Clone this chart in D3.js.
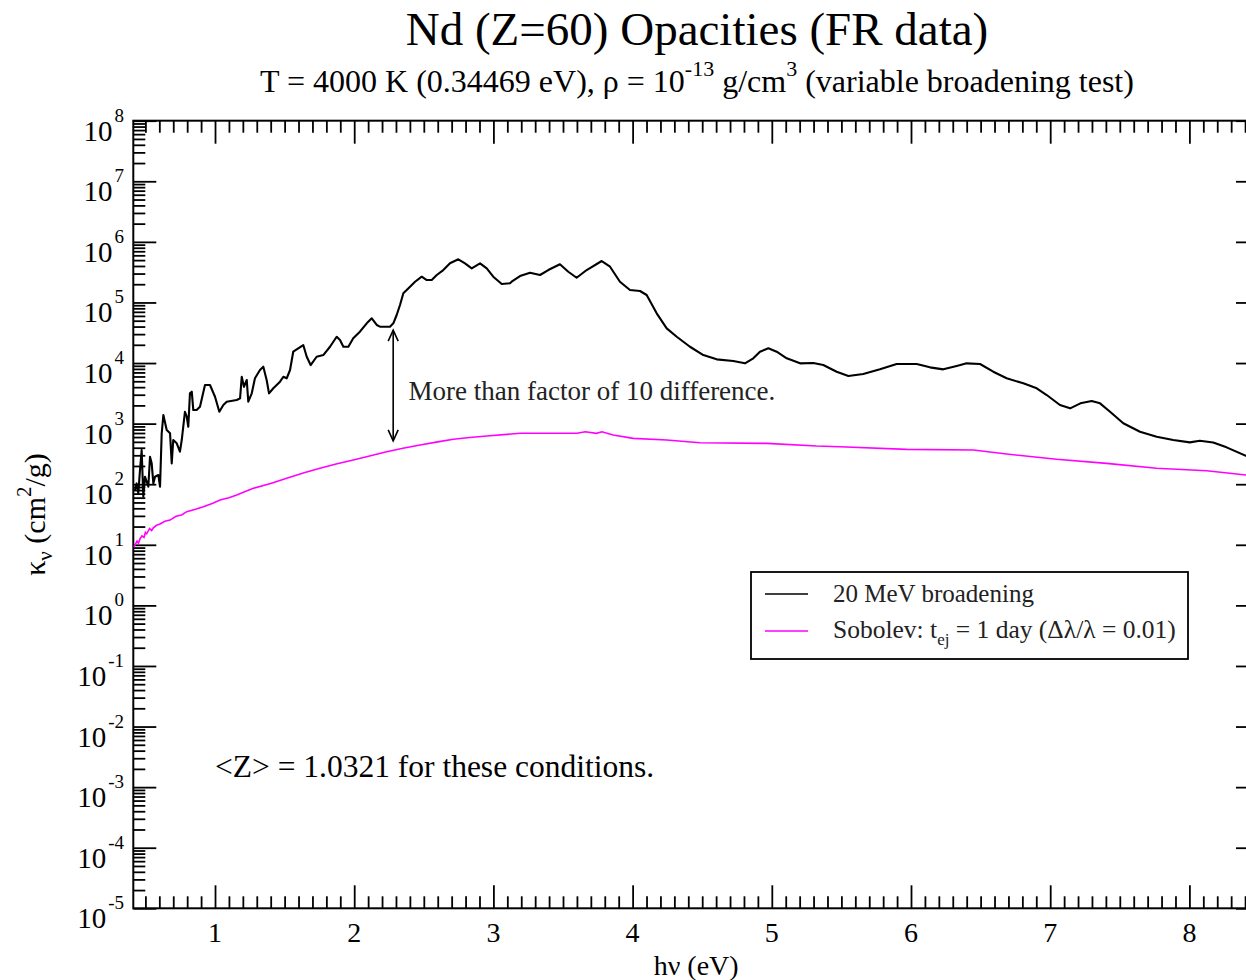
<!DOCTYPE html>
<html lang="en">
<head>
<meta charset="UTF-8">
<title>Nd opacities</title>
<script src="https://d3js.org/d3.v7.min.js"></script>
<style>
  body { margin: 0; background: #fff; }
  svg { display: block; font-family: "Liberation Serif", "Times New Roman", serif; }
</style>
</head>
<body>
<script>
// 20 MeV broadening (black)
const blackE = [0.425,0.437,0.449,0.461,0.473,0.485,0.497,0.521,0.533,0.545,0.557,0.569,0.593,0.605,0.617,0.629,0.653,0.677,0.689,0.700,
  0.725,0.748,0.761,0.784,0.797,0.808,0.820,0.833,0.844,0.868,0.892,0.928,0.964,1.000,1.031,1.060,1.084,1.156,1.180,1.192,
  1.208,1.228,1.239,1.264,1.287,1.323,1.347,1.371,1.388,1.419,1.467,1.491,1.515,1.539,1.562,1.598,1.634,1.659,1.687,1.730,
  1.778,1.826,1.874,1.898,1.922,1.958,1.993,2.041,2.090,2.126,2.162,2.185,2.257,2.281,2.305,2.329,2.353,2.401,2.437,2.485,
  2.521,2.557,2.593,2.640,2.688,2.748,2.796,2.844,2.904,2.952,2.999,3.060,3.119,3.131,3.191,3.263,3.335,3.394,3.478,3.538,
  3.598,3.670,3.778,3.838,3.909,3.981,4.053,4.101,4.173,4.245,4.317,4.412,4.508,4.604,4.723,4.807,4.867,4.915,4.975,5.035,
  5.107,5.203,5.298,5.370,5.466,5.550,5.657,5.777,5.897,6.041,6.136,6.232,6.328,6.400,6.496,6.591,6.687,6.807,6.903,6.975,
  7.070,7.143,7.217,7.298,7.358,7.430,7.525,7.645,7.765,7.884,8.003,8.075,8.171,8.267,8.406,8.500];
const blackK = [80,103,71,171,366,62,133,91,284,221,103,133,142,91,692,1387,783,692,221,536,
  473,344,536,1570,1300,889,3162,3365,1675,1675,1901,4335,4335,2780,1570,2028,2301,2449,2612,5943,
  4064,5248,2301,3162,5598,7674,8690,5248,3162,3828,4920,5943,5598,7674,15380,17500,19820,12700,9270,12700,
  13550,18580,27160,23990,18580,18580,25590,32890,45290,54700,42460,39810,39810,45290,62090,90780,141600,182000,219800,266100,
  234400,234400,283800,342800,442600,515200,442600,365600,442600,365600,266100,201400,207000,219800,272900,309700,283800,342800,426600,321400,
  255900,342800,483100,389000,219800,160300,154500,132700,66220,37410,27160,18580,13550,11510,10790,9886,11970,15380,17500,15380,
  11970,9886,10000,9270,7194,6109,6592,7870,9638,9638,8492,7870,8933,9886,9638,7194,5598,4624,3828,2965,
  2028,1786,2163,2360,2163,1570,1012,735,608,536,491,522,487,406,295,250];

// Sobolev (magenta)
const sobE = [0.415,0.425,0.440,0.450,0.461,0.475,0.490,0.500,0.509,0.530,0.545,0.557,0.580,0.605,0.640,0.677,0.720,0.760,0.797,0.860,
  0.916,0.980,1.036,1.100,1.156,1.275,1.400,1.515,1.640,1.754,1.870,1.993,2.110,2.233,2.350,2.473,2.600,2.712,2.830,2.952,
  3.191,3.600,3.660,3.740,3.780,3.860,4.005,4.245,4.484,4.963,5.322,5.490,5.969,6.448,6.687,7.046,7.405,7.765,8.124,8.406,8.500];
const sobK = [9.2,9.9,11.5,10.6,12.5,14.0,13.2,16.0,15.2,18.5,17.2,19.0,21.0,22.0,24.5,25.6,29.5,31.0,35.2,38.5,
  42.5,48.0,54.8,60.0,66.2,85.5,103,125,155,183,215,251,292,344,392,444,500,551,590,624,
  692,692,735,692,735,649,571,536,484,472,427,416,376,366,315,258,221,183,167,142,138];

const xMajorTicks = [1, 2, 3, 4, 5, 6, 7, 8];
const xMinorTicks = d3.range(5, 86).map(d => d / 10).filter(d => Math.abs(d - Math.round(d)) > 1e-6);
const yExponents = [8, 7, 6, 5, 4, 3, 2, 1, 0, -1, -2, -3, -4, -5];

const legendLabels = ["20 MeV broadening", "Sobolev"];
const legendColors = ["#000000", "#ff00ff"];

const W = 1246, H = 980;
const pLeft = 133.3, pTop = 120.7, pRight = 1259, pBottom = 908.3;

const x = d3.scaleLinear().domain([0.413, 8.5]).range([pLeft, pRight]);
const y = d3.scaleLog().domain([1e-5, 1e8]).range([pBottom, pTop]);

const svg = d3.select("body").append("svg")
  .attr("width", W).attr("height", H)
  .attr("viewBox", `0 0 ${W} ${H}`);

svg.append("defs").append("clipPath").attr("id", "plotclip")
  .append("rect").attr("x", pLeft).attr("y", pTop)
  .attr("width", pRight - pLeft).attr("height", pBottom - pTop);

// title
svg.append("text").attr("x", 697).attr("y", 45)
  .attr("text-anchor", "middle").style("font-size", "47px")
  .text("Nd (Z=60) Opacities (FR data)");

const sub = svg.append("text").attr("x", 697).attr("y", 92)
  .attr("text-anchor", "middle").style("font-size", "32px");
sub.append("tspan").text("T = 4000 K (0.34469 eV), \u03c1 = 10");
sub.append("tspan").attr("dy", -16).style("font-size", "22px").text("-13");
sub.append("tspan").attr("dy", 16).text(" g/cm");
sub.append("tspan").attr("dy", -16).style("font-size", "22px").text("3");
sub.append("tspan").attr("dy", 16).text(" (variable broadening test)");

// ticks
const yMinor = [];
for (let k = -5; k < 8; k++) for (let m = 2; m <= 9; m++) yMinor.push(m * Math.pow(10, k));
const yMajor = yExponents.map(e => Math.pow(10, e));

function styleTicks(g) {
  g.select(".domain").remove();
  g.selectAll("line").attr("stroke", "#000").attr("stroke-width", 1.8);
}

svg.append("g").attr("transform", `translate(0,${pBottom})`)
  .call(d3.axisBottom(x).tickValues(xMajorTicks).tickSize(-23).tickSizeOuter(0).tickFormat(""))
  .call(styleTicks);
svg.append("g").attr("transform", `translate(0,${pBottom})`)
  .call(d3.axisBottom(x).tickValues(xMinorTicks).tickSize(-12).tickSizeOuter(0).tickFormat(""))
  .call(styleTicks);
svg.append("g").attr("transform", `translate(0,${pTop})`)
  .call(d3.axisTop(x).tickValues(xMajorTicks).tickSize(-23).tickSizeOuter(0).tickFormat(""))
  .call(styleTicks);
svg.append("g").attr("transform", `translate(0,${pTop})`)
  .call(d3.axisTop(x).tickValues(xMinorTicks).tickSize(-12).tickSizeOuter(0).tickFormat(""))
  .call(styleTicks);
svg.append("g").attr("transform", `translate(${pLeft},0)`)
  .call(d3.axisLeft(y).tickValues(yMajor).tickSize(-23).tickSizeOuter(0).tickFormat(""))
  .call(styleTicks);
svg.append("g").attr("transform", `translate(${pLeft},0)`)
  .call(d3.axisLeft(y).tickValues(yMinor).tickSize(-12).tickSizeOuter(0).tickFormat(""))
  .call(styleTicks);
svg.append("g").attr("transform", `translate(${pRight},0)`)
  .call(d3.axisRight(y).tickValues(yMajor).tickSize(-23).tickSizeOuter(0).tickFormat(""))
  .call(styleTicks);
svg.append("g").attr("transform", `translate(${pRight},0)`)
  .call(d3.axisRight(y).tickValues(yMinor).tickSize(-12).tickSizeOuter(0).tickFormat(""))
  .call(styleTicks);

// frame
svg.append("rect").attr("x", pLeft).attr("y", pTop)
  .attr("width", pRight - pLeft).attr("height", pBottom - pTop)
  .attr("fill", "none").attr("stroke", "#000").attr("stroke-width", 2);

// tick labels
svg.append("g").selectAll("text").data(xMajorTicks).join("text")
  .attr("x", d => x(d)).attr("y", 942)
  .attr("text-anchor", "middle").style("font-size", "28px")
  .text(d => d);

const yl = svg.append("g").selectAll("text").data(yExponents).join("text")
  .attr("x", 124).attr("y", d => y(Math.pow(10, d)) + 20)
  .attr("text-anchor", "end").style("font-size", "29px");
yl.append("tspan").text("10");
yl.append("tspan").attr("dy", -19).attr("dx", 2).style("font-size", "19px").text(d => d);

// axis titles
svg.append("text").attr("x", (pLeft + pRight) / 2).attr("y", 975)
  .attr("text-anchor", "middle").style("font-size", "28px")
  .text("h\u03bd (eV)");

const yt = svg.append("text")
  .attr("transform", `translate(45,${(pTop + pBottom) / 2}) rotate(-90)`)
  .attr("text-anchor", "middle").style("font-size", "30px");
yt.append("tspan").text("\u03ba");
yt.append("tspan").attr("dy", 7).style("font-size", "21px").text("\u03bd");
yt.append("tspan").attr("dy", -7).text(" (cm");
yt.append("tspan").attr("dy", -14).style("font-size", "21px").text("2");
yt.append("tspan").attr("dy", 14).text("/g)");

// curves
const line = d3.line().x(d => x(d[0])).y(d => y(d[1]));
const plot = svg.append("g").attr("clip-path", "url(#plotclip)");

plot.append("path")
  .datum(sobE.map((e, i) => [e, sobK[i]]))
  .attr("d", line).attr("fill", "none")
  .attr("stroke", legendColors[1]).attr("stroke-width", 1.6);

plot.append("path")
  .datum(blackE.map((e, i) => [e, blackK[i]]))
  .attr("d", line).attr("fill", "none")
  .attr("stroke", legendColors[0]).attr("stroke-width", 2.1)
  .attr("stroke-linejoin", "round");

// double arrow
const arrowX = 2.28, arrowTop = 3.5e4, arrowBot = 5.2e2;
const ax = x(arrowX), ay1 = y(arrowTop), ay2 = y(arrowBot);
const ann = svg.append("g").attr("stroke", "#000").attr("stroke-width", 1.6).attr("fill", "none");
ann.append("line").attr("x1", ax).attr("x2", ax).attr("y1", ay1).attr("y2", ay2);
ann.append("path").attr("d", `M${ax - 5},${ay1 + 11}L${ax},${ay1}L${ax + 5},${ay1 + 11}`);
ann.append("path").attr("d", `M${ax - 5},${ay2 - 11}L${ax},${ay2}L${ax + 5},${ay2 - 11}`);

svg.append("text").attr("x", x(2.39)).attr("y", y(2.5e3))
  .style("font-size", "27px").attr("fill", "#222")
  .text("More than factor of 10 difference.");

svg.append("text").attr("x", x(1.0)).attr("y", y(1.46e-3))
  .style("font-size", "31.5px")
  .text("<Z> = 1.0321 for these conditions.");

// legend
const lg = svg.append("g");
lg.append("rect").attr("x", 751).attr("y", 572).attr("width", 437).attr("height", 87)
  .attr("fill", "#fff").attr("stroke", "#000").attr("stroke-width", 1.8);
[594, 631].forEach((ly, i) => {
  lg.append("line").attr("x1", 765).attr("x2", 808).attr("y1", ly).attr("y2", ly)
    .attr("stroke", legendColors[i]).attr("stroke-width", 1.6);
});
lg.append("text").attr("x", 833).attr("y", 602).style("font-size", "25px").attr("fill", "#222")
  .text(legendLabels[0]);
const l2 = lg.append("text").attr("x", 833).attr("y", 638).style("font-size", "25.5px").attr("fill", "#222");
l2.append("tspan").text(legendLabels[1] + ": t");
l2.append("tspan").attr("dy", 7).style("font-size", "17px").text("ej");
l2.append("tspan").attr("dy", -7).text(" = 1 day (\u0394\u03bb/\u03bb = 0.01)");
</script>
</body>
</html>
